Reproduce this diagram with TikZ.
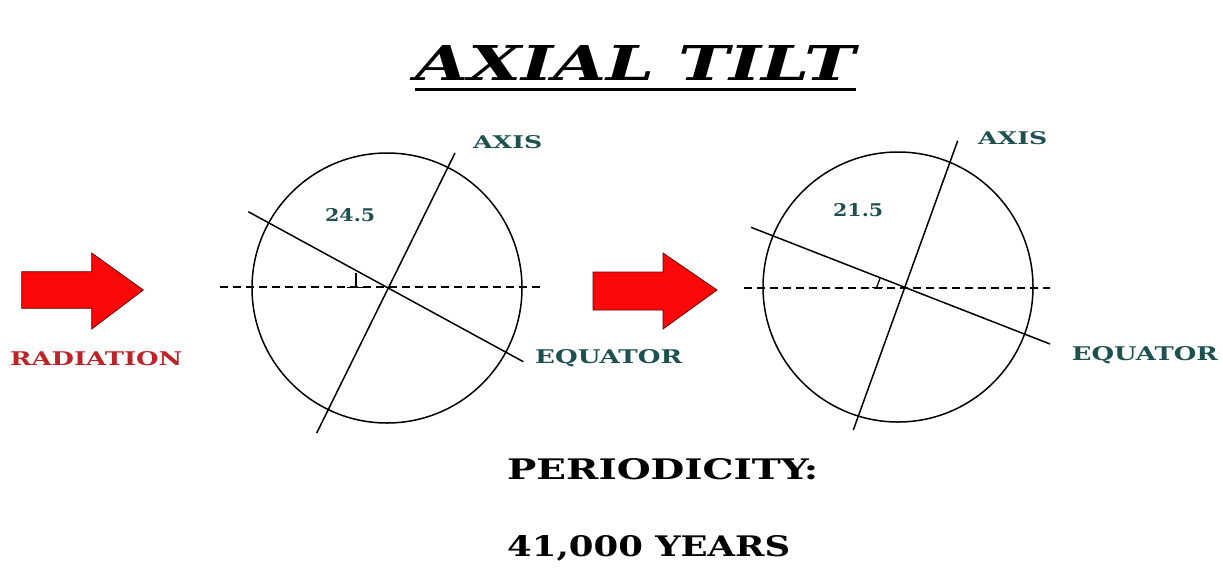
\documentclass[tikz,border=0pt]{standalone}
\usepackage{fontspec}
\setmainfont{DejaVu Serif}
\usepackage{graphicx}
\definecolor{labelteal}{RGB}{30,80,80}
\definecolor{raddark}{RGB}{190,35,40}
\definecolor{arrowred}{RGB}{250,8,8}
\definecolor{arrowedge}{RGB}{110,0,0}
\newcommand{\fitbox}[3]{\resizebox{#1pt}{#2pt}{\bfseries #3}}
\tikzset{
  lbl/.style={inner sep=0pt, anchor=base west, text=labelteal},
  blk/.style={inner sep=0pt, anchor=base west, text=black},
  earth/.style={draw=black, line width=1.5pt},
  tiltline/.style={draw=black, line width=1.5pt},
  horiz/.style={draw=black, line width=1.5pt, dash pattern=on 8pt off 5pt},
  radarrow/.style={fill=arrowred, draw=arrowedge, line width=0.8pt, line join=miter}
}
\begin{document}
\begin{tikzpicture}[x=1pt,y=-1pt]
\useasboundingbox[fill=white] (0,0) rectangle (1223,576);

% title
\node[blk] (title) at (415,80) {\resizebox{440pt}{35pt}{\bfseries\itshape AXIAL TILT}};
\draw[line width=2.5pt] (title.south west |- 0,89.5) coordinate (ul1) -- (title.south east |- 0,89.5) coordinate (ul2);

% radiation arrows
\draw[radarrow] (21.7,271.7) -- (91.7,271.7) -- (91.7,253) -- (143.3,290) -- (91.7,329) -- (91.7,308.3) -- (21.7,308.3) -- cycle;
\draw[radarrow] (593,272) -- (663,272) -- (663,253) -- (717,290) -- (663,329) -- (663,310) -- (593,310) -- cycle;
\node[inner sep=0pt, anchor=base west, text=raddark] (rad) at (10,365) {\fitbox{172}{14}{RADIATION}};

% earth 1
\coordinate (c1) at (387,288);
\draw[earth] (c1) circle[radius=135];
\coordinate (h1a) at (220,287);
\coordinate (h1b) at (543,287);
\draw[horiz] (h1a) -- (h1b);
\coordinate (a1t) at (455,153);
\coordinate (a1b) at (316.7,433);
\draw[tiltline] (a1t) -- (a1b);
\coordinate (e1l) at (248.3,211.7);
\coordinate (e1r) at (523.3,361.7);
\draw[tiltline] (e1l) -- (e1r);
\coordinate (m1t) at (356,272.7);
\coordinate (m1b) at (356,287.5);
\draw[line width=1.3pt] (m1t) -- (m1b);
\draw[line width=1.3pt] (346.7,287.5) -- (366,287.5);
\node[lbl] (ax1) at (473,148.2) {\fitbox{69}{13}{AXIS}};
\node[lbl] (ang1) at (325,221.5) {\fitbox{50}{13}{24.5}};
\node[lbl] (eq1) at (535,363.7) {\fitbox{147}{14}{EQUATOR}};

% earth 2
\coordinate (c2) at (898,287);
\draw[earth] (c2) circle[radius=135];
\coordinate (h2a) at (744,288);
\coordinate (h2b) at (1050,288);
\draw[horiz] (h2a) -- (h2b);
\coordinate (a2t) at (957.7,140.7);
\coordinate (a2b) at (853.3,430);
\draw[tiltline] (a2t) -- (a2b);
\coordinate (e2l) at (751,227.3);
\coordinate (e2r) at (1050,344);
\draw[tiltline] (e2l) -- (e2r);
\coordinate (m2t) at (880,278.3);
\coordinate (m2b) at (876.5,287.7);
\draw[line width=1.3pt] (m2t) -- (m2b);
\draw[line width=1.3pt] (871.7,287.7) -- (883.3,287.7);
\node[lbl] (ax2) at (978,144.5) {\fitbox{69}{13}{AXIS}};
\node[lbl] (ang2) at (833,216.5) {\fitbox{50}{13}{21.5}};
\node[lbl] (eq2) at (1071.7,360) {\fitbox{146}{14}{EQUATOR}};

% periodicity
\node[blk] (per) at (507,479) {\fitbox{311}{21}{PERIODICITY:}};
\node[blk] (yrs) at (507,556) {\fitbox{283}{21}{41,000 YEARS}};
\end{tikzpicture}
\end{document}
